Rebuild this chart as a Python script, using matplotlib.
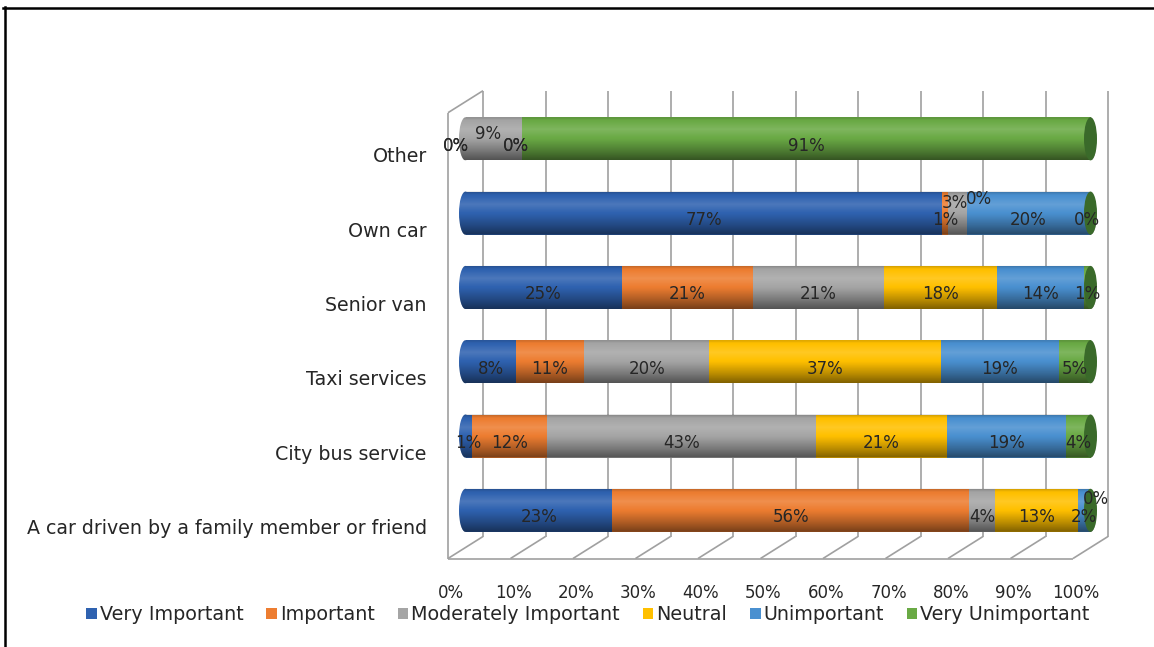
import numpy as np
import matplotlib
matplotlib.use("Agg")
import matplotlib.pyplot as plt
from matplotlib.transforms import ScaledTranslation
from matplotlib.patches import Ellipse, Patch, PathPatch
from matplotlib.path import Path
from matplotlib.lines import Line2D

# ---------------- data ----------------
categories = ["A car driven by a family member or friend", "City bus service",
              "Taxi services", "Senior van", "Own car", "Other"]
series = ["Very Important", "Important", "Moderately Important",
          "Neutral", "Unimportant", "Very Unimportant"]
very_important = [23, 1, 8, 25, 77, 0]
important = [56, 12, 11, 21, 1, 0]
moderately_important = [4, 43, 20, 21, 3, 9]
neutral = [13, 21, 37, 18, 0, 0]
unimportant = [2, 19, 19, 14, 20, 0]
very_unimportant = [0, 4, 5, 1, 0, 91]
x_ticks = [0, 10, 20, 30, 40, 50, 60, 70, 80, 90, 100]
x_tick_labels = ["0%", "10%", "20%", "30%", "40%", "50%", "60%", "70%", "80%", "90%", "100%"]

colors = ["#2F62B0", "#ED7D31", "#A5A5A5", "#FFC000", "#4A90D0", "#6AAA45"]
cap_color = "#3A6A2A"
grid_color = "#A0A0A0"
text_color = "#262626"

values = np.array([very_important, important, moderately_important,
                   neutral, unimportant, very_unimportant], dtype=float)
totals = values.sum(axis=0)
norm = values / totals * 100.0
lefts = np.vstack([np.zeros(values.shape[1]), np.cumsum(norm, axis=0)[:-1]])

# ---------------- geometry ----------------
W, H, DPI = 1154, 647, 100
X0, X100 = 448.0, 1073.0          # front plane pixel of 0% / 100%
YBOT = 558.5                      # front floor pixel (y = -0.5)
PXX = (X100 - X0) / 100.0
PXY = 74.3
L, R, T, B = 440.0, 1115.0, 80.0, 565.0

fig = plt.figure(figsize=(W / DPI, H / DPI), dpi=DPI)
ax = fig.add_axes([L / W, 1 - B / H, (R - L) / W, (B - T) / H])
ax.set_xlim((L - X0) / PXX, (R - X0) / PXX)
ax.set_ylim(-0.5 - (B - YBOT) / PXY, -0.5 + (YBOT - T) / PXY)
for s in ax.spines.values():
    s.set_visible(False)


def off(dx, dy):
    """offset in image pixels (dy positive = downward)"""
    return ax.transData + ScaledTranslation(dx / DPI, -dy / DPI, fig.dpi_scale_trans)


BACK_DX, BACK_DY = 35.0, 22.0
BAR_DX, BAR_DY = 17.5, 11.0
tb = off(BAR_DX, -BAR_DY)
tback = off(BACK_DX, -BACK_DY)
DX = BACK_DX / PXX
DY = BACK_DY / PXY

# ---- 3D walls / grid ----
gkw = dict(color=grid_color, lw=1.2, zorder=0.5, solid_capstyle="butt")
for x in x_ticks:
    ax.plot([x, x], [-0.5, 5.5], transform=tback, **gkw)
    ax.plot([x, x + DX], [-0.5, -0.5 + DY], **gkw)
ax.plot([0, 100], [-0.5, -0.5], **gkw)
ax.plot([0, 0], [-0.5, 5.5], **gkw)
ax.plot([0, DX], [5.5, 5.5 + DY], **gkw)

# ---- bars ----
h = 0.58
a = 6.5 / PXX
ypos = np.arange(len(categories))
for s in range(len(series)):
    ax.barh(ypos, norm[s], left=lefts[s], height=h, color=colors[s],
            transform=tb, zorder=2, linewidth=0)

tp = [0.0, 0.08, 0.3, 0.55, 0.8, 1.0]
tv = [0.22, 0.02, -0.14, 0.04, 0.28, 0.5]
N = 80
tt = np.linspace(0, 1, N)
vv = np.interp(tt, tp, tv)
shade = np.zeros((N, 1, 4))
shade[:, 0, :3] = np.where(vv < 0, 1.0, 0.0)[:, None]
shade[:, 0, 3] = np.abs(vv)

for i, y in enumerate(ypos):
    nz = [s for s in range(len(series)) if norm[s, i] > 0]
    first = nz[0]
    ax.add_patch(Ellipse((0, y), 2 * a, h, color=colors[first], transform=tb,
                         zorder=1.9, linewidth=0))
    th1 = np.linspace(np.pi / 2, 3 * np.pi / 2, 40)
    th2 = np.linspace(-np.pi / 2, np.pi / 2, 40)
    verts = np.vstack([
        np.column_stack([a * np.cos(th1), y + h / 2 * np.sin(th1)]),
        np.column_stack([100 + a * np.cos(th2), y + h / 2 * np.sin(th2)]),
        [[0, y + h / 2]],
    ])
    clip = PathPatch(Path(verts, closed=True), transform=tb)
    im = ax.imshow(shade, extent=(-a, 100 + a, y - h / 2, y + h / 2),
                   transform=tb, aspect="auto", interpolation="bilinear",
                   origin="upper", zorder=3)
    im.set_clip_path(clip)
    ax.add_patch(Ellipse((100, y), 2 * a, h, color=cap_color, transform=tb,
                         zorder=4, linewidth=0))

ax.set_xlim((L - X0) / PXX, (R - X0) / PXX)
ax.set_ylim(-0.5 - (B - YBOT) / PXY, -0.5 + (YBOT - T) / PXY)
ax.set_aspect("auto")

# ---- data labels ----
label_offsets = {(5, 0): (-10, 0), (5, 1): (-10, 0), (5, 2): (-6, -12),
                 (5, 3): (-6, 0), (5, 4): (-6, 0),
                 (4, 2): (-3, -17), (4, 3): (12, -21), (4, 5): (-4, 0),
                 (0, 5): (5, -18)}
for i, y in enumerate(ypos):
    for s in range(len(series)):
        xc = lefts[s, i] + norm[s, i] / 2
        dx, dy = label_offsets.get((i, s), (0, 0))
        ax.text(xc, y, f"{int(values[s, i])}%", ha="center", va="center",
                fontsize=12, color=text_color, zorder=6,
                transform=off(BAR_DX + dx, -BAR_DY + 7 + dy))

# ---- axes ticks ----
ax.set_xticks(x_ticks)
ax.set_xticklabels(x_tick_labels, fontsize=12, color=text_color)
ax.set_yticks(ypos)
ax.set_yticklabels(categories, fontsize=13.7, color=text_color)
ax.tick_params(axis="x", length=0, pad=13.5)
ax.tick_params(axis="y", length=0, pad=9.5)
for lab in ax.get_yticklabels():
    lab.set_transform(lab.get_transform() + ScaledTranslation(0, -5 / DPI, fig.dpi_scale_trans))
for lab in ax.get_xticklabels():
    lab.set_transform(lab.get_transform() + ScaledTranslation(3 / DPI, 0, fig.dpi_scale_trans))

# ---- legend ----
handles = [Patch(facecolor=c, edgecolor="none", label=s) for s, c in zip(series, colors)]
leg = fig.legend(handles=handles, loc="center", bbox_to_anchor=(588 / W, 1 - 615 / H),
                 ncol=6, frameon=False, fontsize=13.8, handlelength=0.55,
                 handleheight=0.55, handletextpad=0.15, columnspacing=1.2,
                 borderaxespad=0, borderpad=0)
for t in leg.get_texts():
    t.set_color(text_color)

# ---- outer border ----
fig.add_artist(Line2D([3 / W, 1], [1 - 7.5 / H, 1 - 7.5 / H], transform=fig.transFigure,
                      color="black", lw=1.8))
fig.add_artist(Line2D([4.5 / W, 4.5 / W], [0, 1 - 6.5 / H], transform=fig.transFigure,
                      color="black", lw=1.8))

fig.savefig("out.png", dpi=DPI)
